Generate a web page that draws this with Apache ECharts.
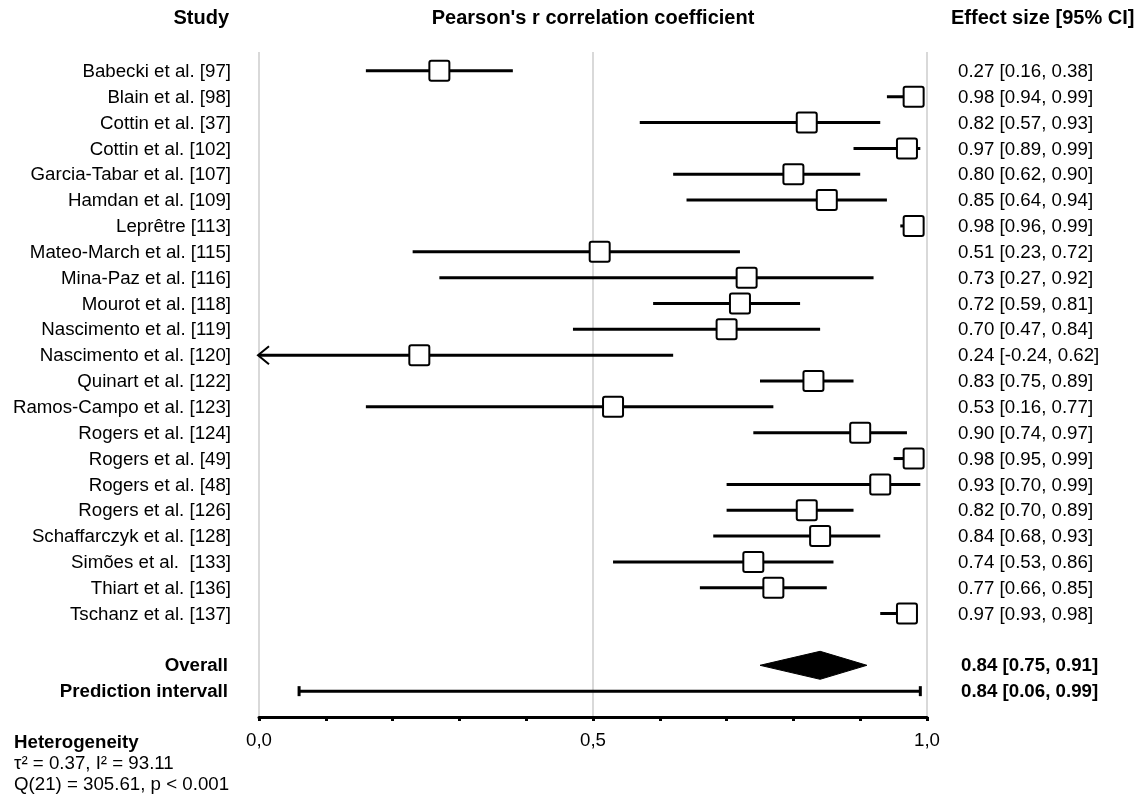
<!DOCTYPE html>
<html>
<head>
<meta charset="utf-8">
<script src="https://cdn.jsdelivr.net/npm/echarts@6/dist/echarts.min.js"></script>
<style>
html,body{margin:0;padding:0;background:#fff;}
#c{width:1148px;height:797px;}
</style>
</head>
<body>
<div id="c"></div>
<script>
// ---- data ----
const studies = [
  "Babecki et al. [97]", "Blain et al. [98]", "Cottin et al. [37]", "Cottin et al. [102]",
  "Garcia-Tabar et al. [107]", "Hamdan et al. [109]", "Leprêtre [113]", "Mateo-March et al. [115]",
  "Mina-Paz et al. [116]", "Mourot et al. [118]", "Nascimento et al. [119]", "Nascimento et al. [120]",
  "Quinart et al. [122]", "Ramos-Campo et al. [123]", "Rogers et al. [124]", "Rogers et al. [49]",
  "Rogers et al. [48]", "Rogers et al. [126]", "Schaffarczyk et al. [128]", "Simões et al.  [133]",
  "Thiart et al. [136]", "Tschanz et al. [137]"
];
const estimate = [0.27,0.98,0.82,0.97,0.80,0.85,0.98,0.51,0.73,0.72,0.70,0.24,0.83,0.53,0.90,0.98,0.93,0.82,0.84,0.74,0.77,0.97];
const lower    = [0.16,0.94,0.57,0.89,0.62,0.64,0.96,0.23,0.27,0.59,0.47,-0.24,0.75,0.16,0.74,0.95,0.70,0.70,0.68,0.53,0.66,0.93];
const upper    = [0.38,0.99,0.93,0.99,0.90,0.94,0.99,0.72,0.92,0.81,0.84,0.62,0.89,0.77,0.97,0.99,0.99,0.89,0.93,0.86,0.85,0.98];
const overallLabel = "Overall";
const overallValues = [0.84, 0.75, 0.91];
const predictionLabel = "Prediction intervall";
const predictionValues = [0.84, 0.06, 0.99];
const axisMin = 0, axisMax = 1;
const tickLabels = [0, 0.5, 1];
const headerStudy = "Study";
const headerAxis = "Pearson's r correlation coefficient";
const headerEffect = "Effect size [95% CI]";
const heteroLines = ["Heterogeneity", "τ² = 0.37, I² = 93.11", "Q(21) = 305.61, p < 0.001"];

// ---- helpers ----
const FONT = '18.7px "Liberation Sans", Arial, sans-serif';
const BFONT = 'bold 18.7px "Liberation Sans", Arial, sans-serif';
const fmt = v => v.toFixed(2);
const effText = (e, l, h) => fmt(e) + " [" + fmt(l) + ", " + fmt(h) + "]";

const studyData = studies.map((s, i) => [estimate[i], i, lower[i], upper[i]]);
const summaryRowOverall = studies.length + 1;
const summaryRowPred = studies.length + 2;

const chart = echarts.init(document.getElementById('c'), null, {renderer: 'canvas'});

const option = {
  animation: false,
  backgroundColor: '#fff',
  grid: {left: 259, right: 221, top: 52, bottom: 80, containLabel: false},
  xAxis: [
    {
      type: 'value', min: axisMin, max: axisMax, interval: 0.1, position: 'bottom',
      axisLine: {show: true, onZero: false, lineStyle: {color: '#000', width: 3}},
      axisTick: {show: true, length: 4, lineStyle: {color: '#000', width: 3}},
      axisLabel: {show: false},
      splitLine: {show: false}
    },
    {
      type: 'value', min: axisMin, max: axisMax, interval: 0.5, position: 'bottom',
      axisLine: {show: false, onZero: false}, axisTick: {show: false},
      axisLabel: {
        show: true, margin: 14, color: '#000',
        fontFamily: '"Liberation Sans", Arial, sans-serif', fontSize: 18.7,
        formatter: v => tickLabels.indexOf(v) >= 0 ? v.toFixed(1).replace('.', ',') : ''
      },
      splitLine: {show: true, lineStyle: {color: '#d9d9d9', width: 2}}
    }
  ],
  yAxis: {
    type: 'value', inverse: true, min: -0.73, max: 25, show: false
  },
  graphic: [
    {type: 'text', x: 229, y: 18, style: {text: headerStudy, font: 'bold 20px "Liberation Sans", Arial, sans-serif', fill: '#000', align: 'right', verticalAlign: 'middle'}},
    {type: 'text', x: 593, y: 18, style: {text: headerAxis, font: 'bold 20px "Liberation Sans", Arial, sans-serif', fill: '#000', align: 'center', verticalAlign: 'middle'}},
    {type: 'text', x: 951, y: 18, style: {text: headerEffect, font: 'bold 20px "Liberation Sans", Arial, sans-serif', fill: '#000', align: 'left', verticalAlign: 'middle'}},
    {type: 'text', x: 14, y: 743, style: {text: heteroLines[0], font: BFONT, fill: '#000', align: 'left', verticalAlign: 'middle'}},
    {type: 'text', x: 14, y: 764, style: {text: heteroLines[1], font: FONT, fill: '#000', align: 'left', verticalAlign: 'middle'}},
    {type: 'text', x: 14, y: 785, style: {text: heteroLines[2], font: FONT, fill: '#000', align: 'left', verticalAlign: 'middle'}}
  ],
  series: [
    {
      type: 'custom',
      xAxisIndex: 0,
      clip: false,
      data: studyData,
      encode: {x: [0, 2, 3], y: 1},
      renderItem: function (params, api) {
        const e = api.value(0), r = api.value(1), lo = api.value(2), hi = api.value(3);
        const pe = api.coord([e, r]);
        const y = pe[1];
        const xl = api.coord([Math.max(lo, axisMin), r])[0];
        const xh = api.coord([Math.min(hi, axisMax), r])[0];
        const x0 = api.coord([axisMin, r])[0];
        const x1 = api.coord([axisMax, r])[0];
        const children = [];
        children.push({type: 'line', shape: {x1: xl, y1: y, x2: xh, y2: y}, style: {stroke: '#000', lineWidth: 3}});
        if (lo < axisMin) {
          children.push({type: 'polyline', shape: {points: [[xl + 10, y - 9], [xl - 1, y], [xl + 10, y + 9]]}, style: {stroke: '#000', lineWidth: 2, fill: null}});
        }
        const s = 20;
        children.push({type: 'rect', shape: {x: pe[0] - s / 2, y: y - s / 2, width: s, height: s, r: 2}, style: {fill: '#fff', stroke: '#000', lineWidth: 2}});
        children.push({type: 'text', style: {text: studies[params.dataIndex], x: x0 - 28, y: y + 1, font: FONT, fill: '#000', align: 'right', verticalAlign: 'middle'}});
        children.push({type: 'text', style: {text: effText(e, lo, hi), x: x1 + 31, y: y + 1, font: FONT, fill: '#000', align: 'left', verticalAlign: 'middle'}});
        return {type: 'group', children: children};
      }
    },
    {
      type: 'custom',
      xAxisIndex: 0,
      clip: false,
      data: [[overallValues[0], summaryRowOverall, overallValues[1], overallValues[2], 0],
             [predictionValues[0], summaryRowPred, predictionValues[1], predictionValues[2], 1]],
      encode: {x: [0, 2, 3], y: 1},
      renderItem: function (params, api) {
        const e = api.value(0), r = api.value(1), lo = api.value(2), hi = api.value(3), kind = api.value(4);
        const pe = api.coord([e, r]);
        const y = pe[1];
        const xl = api.coord([lo, r])[0];
        const xh = api.coord([hi, r])[0];
        const x0 = api.coord([axisMin, r])[0];
        const x1 = api.coord([axisMax, r])[0];
        const children = [];
        if (kind === 0) {
          children.push({type: 'polygon', shape: {points: [[xl, y], [pe[0], y - 14], [xh, y], [pe[0], y + 14]]}, style: {fill: '#000', stroke: '#000', lineWidth: 1}});
        } else {
          children.push({type: 'line', shape: {x1: xl, y1: y, x2: xh, y2: y}, style: {stroke: '#000', lineWidth: 3}});
          children.push({type: 'line', shape: {x1: xl, y1: y - 5, x2: xl, y2: y + 5}, style: {stroke: '#000', lineWidth: 3}});
          children.push({type: 'line', shape: {x1: xh, y1: y - 5, x2: xh, y2: y + 5}, style: {stroke: '#000', lineWidth: 3}});
        }
        const label = kind === 0 ? overallLabel : predictionLabel;
        children.push({type: 'text', style: {text: label, x: x0 - 31, y: y + 1, font: BFONT, fill: '#000', align: 'right', verticalAlign: 'middle'}});
        children.push({type: 'text', style: {text: effText(e, lo, hi), x: x1 + 34, y: y + 1, font: BFONT, fill: '#000', align: 'left', verticalAlign: 'middle'}});
        return {type: 'group', children: children};
      }
    }
  ]
};
chart.setOption(option);
</script>
</body>
</html>
